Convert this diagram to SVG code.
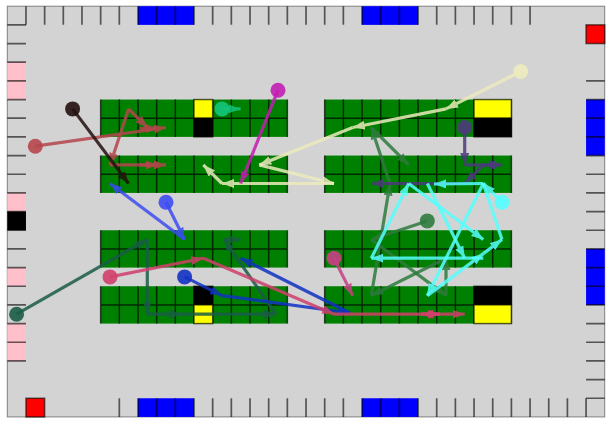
<svg xmlns="http://www.w3.org/2000/svg" width="612" height="425" viewBox="0 0 612 425">
<style>
.tick{stroke:#000;stroke-opacity:0.6;stroke-width:1.7;fill:none}
.grid{stroke:#000;stroke-opacity:0.7;stroke-width:1.5;fill:none}
.sp{stroke:#000;stroke-opacity:0.6;stroke-width:1.5}
.seg{fill:none;stroke-width:3.2;opacity:0.85}
.dot{opacity:0.9}
</style>
<defs>
<g id="blk">
<rect x="0" y="0" width="186.7" height="37.34" fill="#008000"/>
<path class="grid" d="M0,0V37.34M18.67,0V37.34M37.34,0V37.34M56.01,0V37.34M74.68,0V37.34M93.35,0V37.34M112.02,0V37.34M130.69,0V37.34M149.36,0V37.34M168.03,0V37.34M186.7,0V37.34M0,18.67H186.7"/>
</g>
<marker id="m1" viewBox="0 0 12 9" refX="12" refY="4.5" markerWidth="12" markerHeight="9" markerUnits="userSpaceOnUse" orient="auto"><path d="M0,0L12,4.5L0,9z" fill="#24100f"/></marker>
<marker id="m2" viewBox="0 0 12 9" refX="12" refY="4.5" markerWidth="12" markerHeight="9" markerUnits="userSpaceOnUse" orient="auto"><path d="M0,0L12,4.5L0,9z" fill="#b5464d"/></marker>
<marker id="m3" viewBox="0 0 12 9" refX="12" refY="4.5" markerWidth="12" markerHeight="9" markerUnits="userSpaceOnUse" orient="auto"><path d="M0,0L12,4.5L0,9z" fill="#14c47c"/></marker>
<marker id="m4" viewBox="0 0 12 9" refX="12" refY="4.5" markerWidth="12" markerHeight="9" markerUnits="userSpaceOnUse" orient="auto"><path d="M0,0L12,4.5L0,9z" fill="#c21eb2"/></marker>
<marker id="m5" viewBox="0 0 12 9" refX="12" refY="4.5" markerWidth="12" markerHeight="9" markerUnits="userSpaceOnUse" orient="auto"><path d="M0,0L12,4.5L0,9z" fill="#ecebbc"/></marker>
<marker id="m6" viewBox="0 0 12 9" refX="12" refY="4.5" markerWidth="12" markerHeight="9" markerUnits="userSpaceOnUse" orient="auto"><path d="M0,0L12,4.5L0,9z" fill="#4b3a7b"/></marker>
<marker id="m7" viewBox="0 0 12 9" refX="12" refY="4.5" markerWidth="12" markerHeight="9" markerUnits="userSpaceOnUse" orient="auto"><path d="M0,0L12,4.5L0,9z" fill="#2f7a3e"/></marker>
<marker id="m8" viewBox="0 0 12 9" refX="12" refY="4.5" markerWidth="12" markerHeight="9" markerUnits="userSpaceOnUse" orient="auto"><path d="M0,0L12,4.5L0,9z" fill="#55ffff"/></marker>
<marker id="m9" viewBox="0 0 12 9" refX="12" refY="4.5" markerWidth="12" markerHeight="9" markerUnits="userSpaceOnUse" orient="auto"><path d="M0,0L12,4.5L0,9z" fill="#d0406c"/></marker>
<marker id="m10" viewBox="0 0 12 9" refX="12" refY="4.5" markerWidth="12" markerHeight="9" markerUnits="userSpaceOnUse" orient="auto"><path d="M0,0L12,4.5L0,9z" fill="#c83f85"/></marker>
<marker id="m11" viewBox="0 0 12 9" refX="12" refY="4.5" markerWidth="12" markerHeight="9" markerUnits="userSpaceOnUse" orient="auto"><path d="M0,0L12,4.5L0,9z" fill="#1b5c48"/></marker>
<marker id="m12" viewBox="0 0 12 9" refX="12" refY="4.5" markerWidth="12" markerHeight="9" markerUnits="userSpaceOnUse" orient="auto"><path d="M0,0L12,4.5L0,9z" fill="#3d4cf2"/></marker>
<marker id="m13" viewBox="0 0 12 9" refX="12" refY="4.5" markerWidth="12" markerHeight="9" markerUnits="userSpaceOnUse" orient="auto"><path d="M0,0L12,4.5L0,9z" fill="#1232c4"/></marker>
</defs>
<rect x="0" y="0" width="612" height="425" fill="#ffffff"/>
<g id="floor">
<rect x="7.3" y="6.2" width="597.4" height="410.7" fill="#d3d3d3" stroke="#808080" stroke-width="1"/>
</g>
<g id="border-cells">
<rect x="137.99" y="6.2" width="56.01" height="18.67" fill="#0000ff"/>
<rect x="362.03" y="6.2" width="56.01" height="18.67" fill="#0000ff"/>
<rect x="137.99" y="398.27" width="56.01" height="18.67" fill="#0000ff"/>
<rect x="362.03" y="398.27" width="56.01" height="18.67" fill="#0000ff"/>
<rect x="25.97" y="398.27" width="18.67" height="18.67" fill="#ff0000" class="sp"/>
<rect x="586.07" y="24.87" width="18.67" height="18.67" fill="#ff0000" class="sp"/>
<rect x="586.07" y="99.55" width="18.67" height="56.01" fill="#0000ff"/>
<rect x="586.07" y="248.91" width="18.67" height="56.01" fill="#0000ff"/>
<rect x="7.3" y="62.21" width="18.67" height="37.34" fill="#ffc0cb"/>
<rect x="7.3" y="192.9" width="18.67" height="18.67" fill="#ffc0cb"/>
<rect x="7.3" y="211.57" width="18.67" height="18.67" fill="#000000"/>
<rect x="7.3" y="267.58" width="18.67" height="18.67" fill="#ffc0cb"/>
<rect x="7.3" y="323.59" width="18.67" height="37.34" fill="#ffc0cb"/>
<path class="tick" d="M25.97,6.2V24.87M44.64,6.2V24.87M63.31,6.2V24.87M81.98,6.2V24.87M100.65,6.2V24.87M119.32,6.2V24.87M137.99,6.2V24.87M156.66,6.2V24.87M175.33,6.2V24.87M194,6.2V24.87M212.67,6.2V24.87M231.34,6.2V24.87M250.01,6.2V24.87M268.68,6.2V24.87M287.35,6.2V24.87M306.02,6.2V24.87M324.69,6.2V24.87M343.36,6.2V24.87M362.03,6.2V24.87M380.7,6.2V24.87M399.37,6.2V24.87M418.04,6.2V24.87M436.71,6.2V24.87M455.38,6.2V24.87M474.05,6.2V24.87M492.72,6.2V24.87M511.39,6.2V24.87M530.06,6.2V24.87"/>
<path class="tick" d="M119.32,398.27V416.94M137.99,398.27V416.94M156.66,398.27V416.94M175.33,398.27V416.94M194,398.27V416.94M212.67,398.27V416.94M231.34,398.27V416.94M250.01,398.27V416.94M268.68,398.27V416.94M287.35,398.27V416.94M306.02,398.27V416.94M324.69,398.27V416.94M343.36,398.27V416.94M362.03,398.27V416.94M380.7,398.27V416.94M399.37,398.27V416.94M418.04,398.27V416.94M436.71,398.27V416.94M455.38,398.27V416.94M474.05,398.27V416.94M492.72,398.27V416.94M511.39,398.27V416.94M530.06,398.27V416.94M548.73,398.27V416.94M567.4,398.27V416.94M586.07,398.27V416.94"/>
<path class="tick" d="M7.3,24.87H25.97M7.3,43.54H25.97M7.3,62.21H25.97M7.3,80.88H25.97M7.3,99.55H25.97M7.3,118.22H25.97M7.3,136.89H25.97M7.3,155.56H25.97M7.3,174.23H25.97M7.3,192.9H25.97M7.3,211.57H25.97M7.3,230.24H25.97M7.3,248.91H25.97M7.3,267.58H25.97M7.3,286.25H25.97M7.3,304.92H25.97M7.3,323.59H25.97M7.3,342.26H25.97M7.3,360.93H25.97"/>
<path class="tick" d="M586.07,80.88H604.74M586.07,99.55H604.74M586.07,118.22H604.74M586.07,136.89H604.74M586.07,155.56H604.74M586.07,174.23H604.74M586.07,192.9H604.74M586.07,211.57H604.74M586.07,230.24H604.74M586.07,248.91H604.74M586.07,267.58H604.74M586.07,286.25H604.74M586.07,304.92H604.74M586.07,323.59H604.74M586.07,342.26H604.74M586.07,360.93H604.74M586.07,379.6H604.74M586.07,398.27H604.74"/>
</g>
<g id="shelf-a"><use href="#blk" x="100.65" y="99.55"/><rect class="sp" x="194" y="99.55" width="18.67" height="18.67" fill="#ffff00"/><rect class="sp" x="194" y="118.22" width="18.67" height="18.67" fill="#000"/></g>
<g id="shelf-b"><use href="#blk" x="100.65" y="155.56"/></g>
<g id="shelf-c"><use href="#blk" x="324.69" y="99.55"/><rect class="sp" x="474.05" y="99.55" width="37.34" height="18.67" fill="#ffff00"/><rect class="sp" x="474.05" y="118.22" width="37.34" height="18.67" fill="#000"/></g>
<g id="shelf-d"><use href="#blk" x="324.69" y="155.56"/></g>
<g id="shelf-e"><use href="#blk" x="100.65" y="230.24"/></g>
<g id="shelf-f"><use href="#blk" x="100.65" y="286.25"/><rect class="sp" x="194" y="286.25" width="18.67" height="18.67" fill="#000"/><rect class="sp" x="194" y="304.92" width="18.67" height="18.67" fill="#ffff00"/></g>
<g id="shelf-g"><use href="#blk" x="324.69" y="230.24"/></g>
<g id="shelf-h"><use href="#blk" x="324.69" y="286.25"/><rect class="sp" x="474.05" y="286.25" width="37.34" height="18.67" fill="#000"/><rect class="sp" x="474.05" y="304.92" width="37.34" height="18.67" fill="#ffff00"/></g>
<g id="connectors">
<g id="r-teal" stroke="#1b5c48">
<path class="seg" marker-end="url(#m11)" d="M16.6,314.2L147.3,239.5"/>
<path class="seg" marker-end="url(#m11)" d="M147.3,239.5L147.3,314.2"/>
<path class="seg" marker-end="url(#m11)" d="M147.3,314.2L182,314.2"/>
<path class="seg" marker-end="url(#m11)" d="M182,314.2L276,314.2"/>
<path class="seg" marker-end="url(#m11)" d="M276,314.2L224,239.5"/>
<path class="seg" marker-end="url(#m11)" d="M224,239.5L240.6,239.5"/>
<circle class="dot" cx="16.6" cy="314.2" r="7.5" fill="#1b5c48" stroke="none"/>
</g>
<g id="r-green" stroke="#2f7a3e">
<path class="seg" marker-end="url(#m7)" d="M427.3,220.9L371.3,239.5"/>
<path class="seg" marker-end="url(#m7)" d="M371.3,239.5L446,295.6"/>
<path class="seg" marker-end="url(#m7)" d="M446,295.6L446,258.2"/>
<path class="seg" marker-end="url(#m7)" d="M446,258.2L371.3,295.6"/>
<path class="seg" marker-end="url(#m7)" d="M371.3,295.6L390,183.5"/>
<path class="seg" marker-end="url(#m7)" d="M390,183.5L371.3,127.5"/>
<path class="seg" marker-end="url(#m7)" d="M371.3,127.5L408.7,164.9"/>
<circle class="dot" cx="427.3" cy="220.9" r="7.5" fill="#2f7a3e" stroke="none"/>
</g>
<g id="r-cream" stroke="#ecebbc">
<path class="seg" marker-end="url(#m5)" d="M520.7,71.5L446,108.9"/>
<path class="seg" marker-end="url(#m5)" d="M446,108.9L352.7,127.5"/>
<path class="seg" marker-end="url(#m5)" d="M352.7,127.5L259.3,164.9"/>
<path class="seg" marker-end="url(#m5)" d="M259.3,164.9L334,183.5"/>
<path class="seg" marker-end="url(#m5)" d="M334,183.5L222,183.5"/>
<path class="seg" marker-end="url(#m5)" d="M222,183.5L203.3,164.9"/>
<circle class="dot" cx="520.7" cy="71.5" r="7.5" fill="#ecebbc" stroke="none"/>
</g>
<g id="r-purple" stroke="#4b3a7b">
<path class="seg" marker-end="url(#m6)" d="M464.7,127.5L464.7,164.9"/>
<path class="seg" marker-end="url(#m6)" d="M464.7,164.9L502,164.9"/>
<path class="seg" marker-end="url(#m6)" d="M502,164.9L483.3,164.9"/>
<path class="seg" marker-end="url(#m6)" d="M483.3,164.9L464.7,183.5"/>
<path class="seg" marker-end="url(#m6)" d="M464.7,183.5L371.3,183.5"/>
<circle class="dot" cx="464.7" cy="127.5" r="7.5" fill="#4b3a7b" stroke="none"/>
</g>
<g id="r-cyan" stroke="#55ffff">
<path class="seg" marker-end="url(#m8)" d="M502,202.2L483.3,183.5"/>
<path class="seg" marker-end="url(#m8)" d="M483.3,183.5L434,184"/>
<path class="seg" marker-end="url(#m8)" d="M427.3,183.5L464.7,258.2"/>
<path class="seg" marker-end="url(#m8)" d="M483.3,258.2L371.3,258.2"/>
<path class="seg" marker-end="url(#m8)" d="M371.3,258.2L408.7,183.5"/>
<path class="seg" marker-end="url(#m8)" d="M408.7,183.5L483.3,239.5"/>
<path class="seg" marker-end="url(#m8)" d="M483.3,183.5L427.3,295.6"/>
<path class="seg" marker-end="url(#m8)" d="M427.3,295.6L483.3,253.6"/>
<path class="seg" marker-end="url(#m8)" d="M483.3,253.6L502,239.5"/>
<path class="seg" d="M502,239.5L483.3,183.5"/>
<circle class="dot" cx="502" cy="202.2" r="7.5" fill="#55ffff" stroke="none"/>
</g>
<g id="r-pink" stroke="#c83f85">
<path class="seg" marker-end="url(#m10)" d="M334,258.2L352.7,295.6"/>
<circle class="dot" cx="334" cy="258.2" r="7.5" fill="#c83f85" stroke="none"/>
</g>
<g id="r-blue2" stroke="#1232c4">
<path class="seg" marker-end="url(#m13)" d="M184.6,276.9L222,295.6"/>
<path class="seg" marker-end="url(#m13)" d="M222,295.6L350,313"/>
<path class="seg" marker-end="url(#m13)" d="M350,313L240.6,258.2"/>
<circle class="dot" cx="184.6" cy="276.9" r="7.5" fill="#1232c4" stroke="none"/>
</g>
<g id="r-crimson" stroke="#d0406c">
<path class="seg" marker-end="url(#m9)" d="M110,276.9L203.3,258.2"/>
<path class="seg" marker-end="url(#m9)" d="M203.3,258.2L334,314.2"/>
<path class="seg" marker-end="url(#m9)" d="M334,314.2L440,314.2"/>
<path class="seg" marker-end="url(#m9)" d="M440,314.2L421,314.2"/>
<path class="seg" marker-end="url(#m9)" d="M421,314.2L464.7,314.2"/>
<circle class="dot" cx="110" cy="276.9" r="7.5" fill="#d0406c" stroke="none"/>
</g>
<g id="r-blue1" stroke="#3d4cf2">
<path class="seg" marker-end="url(#m12)" d="M166,202.2L184.6,239.5"/>
<path class="seg" marker-end="url(#m12)" d="M184.6,239.5L110,183.5"/>
<circle class="dot" cx="166" cy="202.2" r="7.5" fill="#3d4cf2" stroke="none"/>
</g>
<g id="r-red" stroke="#b5464d">
<path class="seg" marker-end="url(#m2)" d="M35.3,146.2L166,127.5"/>
<path class="seg" marker-end="url(#m2)" d="M140,128.7L157.5,128.3"/>
<path class="seg" marker-end="url(#m2)" d="M128.6,108.9L147.3,127.5"/>
<path class="seg" marker-end="url(#m2)" d="M128.6,108.9L110,164.9"/>
<path class="seg" marker-end="url(#m2)" d="M110,164.9L166,164.9"/>
<path class="seg" marker-end="url(#m2)" d="M140,164.9L157.5,164.9"/>
<circle class="dot" cx="35.3" cy="146.2" r="7.5" fill="#b5464d" stroke="none"/>
</g>
<g id="r-black" stroke="#24100f">
<path class="seg" marker-end="url(#m1)" d="M72.6,108.9L128.6,183.5"/>
<circle class="dot" cx="72.6" cy="108.9" r="7.5" fill="#24100f" stroke="none"/>
</g>
<g id="r-magenta" stroke="#c21eb2">
<path class="seg" marker-end="url(#m4)" d="M278,90.2L240.6,183.5"/>
<circle class="dot" cx="278" cy="90.2" r="7.5" fill="#c21eb2" stroke="none"/>
</g>
<g id="r-mint" stroke="#14c47c">
<path class="seg" marker-end="url(#m3)" d="M222,108.9L240.6,108.9"/>
<circle class="dot" cx="222" cy="108.9" r="7.5" fill="#14c47c" stroke="none"/>
</g>
</g>
</svg>
